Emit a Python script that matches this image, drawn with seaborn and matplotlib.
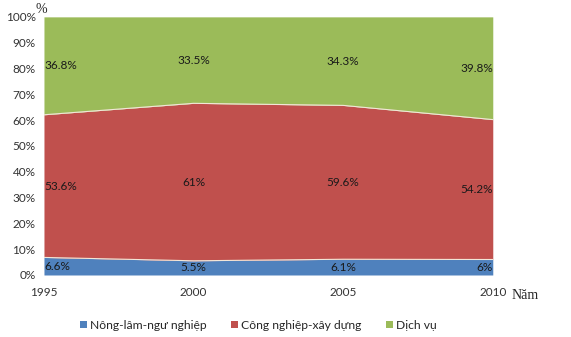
import matplotlib
matplotlib.use("Agg")
import matplotlib.pyplot as plt
import seaborn as sns
import numpy as np
from matplotlib.patches import Patch

years = [1995, 2000, 2005, 2010]
nong_lam_ngu = [6.6, 5.5, 6.1, 6.0]
cong_nghiep = [53.6, 61.0, 59.6, 54.2]
dich_vu = [36.8, 33.5, 34.3, 39.8]
series_names = ["Nông-lâm-ngư nghiệp", "Công nghiệp-xây dựng", "Dịch vụ"]
colors = ["#4F81BD", "#C0504D", "#9BBB59"]

sns.set_theme(style="white")
plt.rcParams["font.family"] = ["Lato", "DejaVu Sans"]

fig = plt.figure(figsize=(5.71, 3.37), dpi=100)
ax = fig.add_axes([0.077, 0.184, 0.786, 0.766])

data = np.array([nong_lam_ngu, cong_nghiep, dich_vu])
pct = data / data.sum(axis=0) * 100.0

ax.stackplot(years, pct, colors=colors, linewidth=0)
cum = np.cumsum(pct, axis=0)
for row in cum[:-1]:
    sns.lineplot(x=years, y=row, ax=ax, color="#F2E6D8", linewidth=0.8)

# value labels in the middle of each band
lower = np.vstack([np.zeros(len(years)), cum[:-1]])
for i, vals in enumerate(data):
    for j, yr in enumerate(years):
        mid = (lower[i, j] + cum[i, j]) / 2
        ha = "left" if j == 0 else ("right" if j == len(years) - 1 else "center")
        ax.text(yr, mid, f"{vals[j]:g}%", ha=ha, va="center", fontsize=8.5, color="#1a1a1a")

ax.set_xlim(years[0], years[-1])
ax.set_ylim(0, 100)
ax.set_xticks(years)
ax.set_xticklabels([str(y) for y in years], fontsize=8.5)
ax.set_yticks(range(0, 101, 10))
ax.set_yticklabels([f"{t}%" for t in range(0, 101, 10)], fontsize=8.5)
ax.tick_params(axis="both", length=0, pad=6, colors="#333333")
ax.tick_params(axis="x", pad=9)
for s in ax.spines.values():
    s.set_visible(False)

fig.text(0.063, 0.99, "%", ha="left", va="top", fontsize=10, family=["Liberation Serif"])
fig.text(0.895, 0.123, "Năm", ha="left", va="center", fontsize=10, family=["Liberation Serif"])

handles = [Patch(facecolor=c, edgecolor="none") for c in colors]
fig.legend(handles, series_names, loc="center", bbox_to_anchor=(0.452, 0.035), ncol=3,
           frameon=False, fontsize=8.7, handlelength=0.6, handleheight=0.6,
           handletextpad=0.25, columnspacing=2.0)

fig.savefig("out.png", dpi=100)
